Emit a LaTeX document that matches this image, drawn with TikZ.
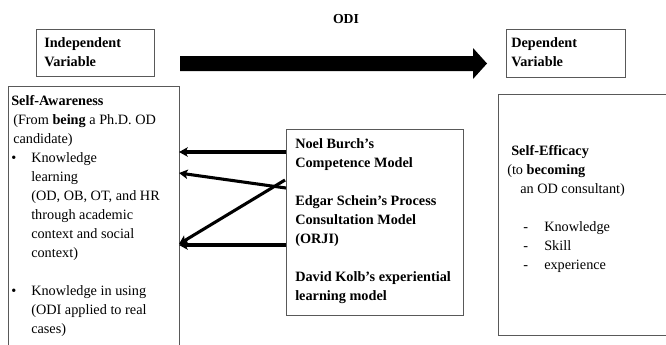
\documentclass[tikz,border=0pt]{standalone}
\usepackage{fontspec}
\setmainfont{Liberation Serif}
\usetikzlibrary{arrows.meta}
\begin{document}
\begin{tikzpicture}[x=0.75pt,y=-0.75pt,
  frame/.style={draw=black!65,line width=0.7pt},
  boxnode/.style={frame,anchor=north west,inner sep=0pt},
  txt/.style={anchor=north west,inner sep=0pt,align=left,
    font=\fontsize{10.7pt}{14.25pt}\selectfont},
  link/.style={line width=2.3pt,-{Stealth[length=6.5pt,width=7pt,inset=1.5pt]}}]
\useasboundingbox (0,0) rectangle (666,344);
% outlined boxes
\node[boxnode,minimum width=88.5pt,minimum height=35.25pt] (indep) at (36,29) {};
\node[boxnode,minimum width=89.25pt,minimum height=36pt] (dep) at (506,29) {};
\node[boxnode,minimum width=132.75pt,minimum height=139.5pt] (mid) at (286,129) {};
% boxes running past the page edge
\coordinate (awtl) at (8,86);
\coordinate (awtr) at (179,86);
\draw[frame] (8,352) -- (awtl) -- (awtr) -- (179,352);
\coordinate (setl) at (498,94);
\coordinate (sebl) at (498,335);
\draw[frame] (672,94) -- (setl) -- (sebl) -- (672,335);
% big ODI arrow
\node[font=\fontsize{10.3pt}{12pt}\selectfont\bfseries,inner sep=0pt] (odi) at (346,19) {ODI};
\fill (180,56) -- (473,56) -- (473,48) -- (487,63.5) -- (473,79) -- (473,71) -- (180,71) -- cycle;
% texts
\node[txt,font=\fontsize{10.7pt}{14.25pt}\selectfont\bfseries] (indeptxt) at (44,37.5) {Independent\\Variable};
\node[txt,font=\fontsize{10.7pt}{14.25pt}\selectfont\bfseries] (deptxt) at (511,37.5) {Dependent\\Variable};
\node[txt] (awtxt) at (11,95) {%
  \textbf{Self-Awareness}\\
  \hspace*{1.5pt}(From \textbf{being} a Ph.D. OD\\
  \hspace*{1.5pt}candidate)\\
  \makebox[15pt][l]{\textbullet}Knowledge\\
  \hspace*{15pt}learning\\
  \hspace*{15pt}(OD, OB, OT, and HR\\
  \hspace*{15pt}through academic\\
  \hspace*{15pt}context and social\\
  \hspace*{15pt}context)\\[14.25pt]
  \makebox[15pt][l]{\textbullet}Knowledge in using\\
  \hspace*{15pt}(ODI applied to real\\
  \hspace*{15pt}cases)};
\node[txt,font=\fontsize{10.7pt}{14.25pt}\selectfont\bfseries] (midtxt) at (295,138) {%
  Noel Burch’s\\
  Competence Model\\[14.25pt]
  Edgar Schein’s Process\\
  Consultation Model\\
  (ORJI)\\[14.25pt]
  David Kolb’s experiential\\
  learning model};
\node[txt] (setxt) at (507,145) {%
  \hspace*{3pt}\textbf{Self-Efficacy}\\
  (to \textbf{becoming}\\
  \hspace*{9.75pt}an OD consultant)\\[14.25pt]
  \hspace*{12pt}\makebox[15.75pt][l]{-}Knowledge\\
  \hspace*{12pt}\makebox[15.75pt][l]{-}Skill\\
  \hspace*{12pt}\makebox[15.75pt][l]{-}experience};
% connectors from the models box to the self-awareness box
\coordinate (s1) at (284,152);
\coordinate (t1) at (179,152);
\coordinate (s2) at (284,188);
\coordinate (t2) at (179,173);
\coordinate (s3) at (285,180);
\coordinate (t3) at (179,244);
\coordinate (s4) at (284,245);
\coordinate (t4) at (179,245);
\draw[link] (mid.west |- s1) -- (t1);
\draw[link] (mid.west |- s2) -- (t2);
\draw[link] (s3) -- (t3);
\draw[link] (mid.west |- s4) -- (t4);
\end{tikzpicture}
\end{document}
